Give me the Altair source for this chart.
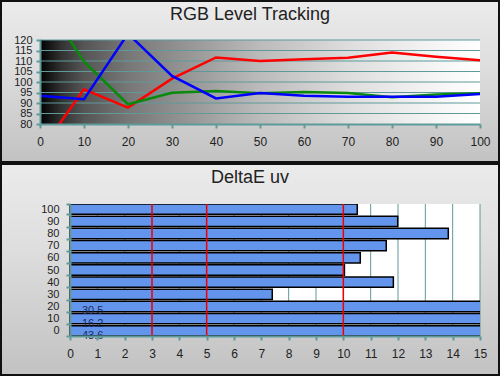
import altair as alt
import pandas as pd

# ---- data ----
levels = [0, 10, 20, 30, 40, 50, 60, 70, 80, 90, 100]
red = [67, 96.5, 87.8, 101.6, 111.7, 110.0, 110.8, 111.6, 114.0, 112.0, 110.3]
green = [141.8, 109.7, 89.4, 94.9, 95.7, 94.6, 95.2, 94.8, 92.7, 94.1, 94.6]
blue = [93.5, 91.8, 123.0, 102.9, 92.2, 94.8, 93.5, 93.0, 93.0, 93.0, 94.3]
y_ticks = [80, 85, 90, 95, 100, 105, 110, 115, 120]
x_ticks = [0, 10, 20, 30, 40, 50, 60, 70, 80, 90, 100]

de_levels = [0, 10, 20, 30, 40, 50, 60, 70, 80, 90, 100]
de_values = [43.6, 16.2, 30.5, 7.40, 11.83, 10.04, 10.62, 11.57, 13.84, 11.99, 10.51]
de_ticks = list(range(0, 16))
de_limits = [3, 5, 10]

TEAL = "#5f9a9a"
FONT = "Liberation Sans"

lines_df = pd.DataFrame({
    "level": levels * 3,
    "value": red + green + blue,
    "channel": ["Red"] * len(levels) + ["Green"] * len(levels) + ["Blue"] * len(levels),
})
ygrid_df = pd.DataFrame({"value": y_ticks[1:]})
one_row = pd.DataFrame({"k": [0]})

bars_df = pd.DataFrame({"level": de_levels, "de": de_values})
bars_df["label"] = [f"{v:.1f}" for v in de_values]
xgrid_df = pd.DataFrame({"de": de_ticks[1:]})
limits_df = pd.DataFrame({"de": de_limits})

panel_grad = alt.LinearGradient(
    gradient="linear", x1=0, x2=0, y1=0, y2=1,
    stops=[alt.GradientStop(color="#ebebeb", offset=0),
           alt.GradientStop(color="#dedede", offset=0.4),
           alt.GradientStop(color="#c2c2c2", offset=1)])
plot_grad = alt.LinearGradient(
    gradient="linear", x1=0, x2=1, y1=0, y2=0,
    stops=[alt.GradientStop(color="#000000", offset=0),
           alt.GradientStop(color="#333333", offset=0.05),
           alt.GradientStop(color="#555555", offset=0.1),
           alt.GradientStop(color="#777777", offset=0.2),
           alt.GradientStop(color="#999999", offset=0.35),
           alt.GradientStop(color="#bbbbbb", offset=0.5),
           alt.GradientStop(color="#dddddd", offset=0.7),
           alt.GradientStop(color="#f2f2f2", offset=0.87),
           alt.GradientStop(color="#ffffff", offset=1)])


def axis_style(font_size=12, pad=8, **extra):
    return alt.Axis(domainColor=TEAL, domainWidth=2, tickColor=TEAL, tickWidth=2,
                    tickSize=4, labelFont=FONT, labelFontSize=font_size,
                    labelColor="#222222", labelFontWeight="normal",
                    grid=False, title=None, labelFlush=False, labelOverlap=False,
                    labelPadding=pad, zindex=1, **extra)


# ---------------- top panel ----------------
W1, H1 = 440, 84
xs1 = alt.Scale(domain=[0, 100], nice=False)
ys1 = alt.Scale(domain=[80, 120], nice=False, zero=False)
x1_axis = axis_style(12, 8, values=x_ticks)
y1_axis = axis_style(11, 4, values=y_ticks)

top_panel = alt.Chart(one_row).mark_rect(fill=panel_grad, stroke="#111111", strokeWidth=2).encode(
    x=alt.value(-39), x2=alt.value(459), y=alt.value(-39), y2=alt.value(122))
top_plotbg = alt.Chart(one_row).mark_rect(fill=plot_grad).encode(
    x=alt.value(0), x2=alt.value(W1), y=alt.value(0), y2=alt.value(H1))
top_grid = alt.Chart(ygrid_df).mark_rule(color=TEAL, strokeWidth=1).encode(
    y=alt.Y("value:Q", scale=ys1, axis=y1_axis))
top_lines = alt.Chart(lines_df).mark_line(strokeWidth=2.5, clip=True).encode(
    x=alt.X("level:Q", scale=xs1, axis=x1_axis),
    y=alt.Y("value:Q", scale=ys1, axis=y1_axis),
    color=alt.Color("channel:N",
                    scale=alt.Scale(domain=["Red", "Green", "Blue"],
                                    range=["#ff0000", "#0a8a0a", "#0000ff"]),
                    legend=None),
    detail="channel:N",
)
top_title = alt.Chart(one_row).mark_text(
    text="RGB Level Tracking", font=FONT, fontSize=18, fontWeight=400, color="#222222",
    align="center", baseline="alphabetic").encode(x=alt.value(210), y=alt.value(-20))

top = alt.layer(top_panel, top_plotbg, top_grid, top_lines, top_title).properties(
    width=W1, height=H1)

# ---------------- bottom panel ----------------
W2, H2 = 440, 132
xs2 = alt.Scale(domain=[0, 15], nice=False, range=[30, 440])
ys2 = alt.Scale(paddingInner=0.15, paddingOuter=0)
x2_axis = axis_style(12, 8, values=de_ticks)
y2_axis = axis_style(11, 7, offset=-30, tickBand="extent")

bot_panel = alt.Chart(one_row).mark_rect(fill=panel_grad, stroke="#111111", strokeWidth=2).encode(
    x=alt.value(-39), x2=alt.value(459), y=alt.value(-40), y2=alt.value(171))
bot_plotbg = alt.Chart(one_row).mark_rect(fill="#ffffff").encode(
    x=alt.value(30), x2=alt.value(W2), y=alt.value(0), y2=alt.value(H2))
bot_grid = alt.Chart(xgrid_df).mark_rule(color=TEAL, strokeWidth=1).encode(
    x=alt.X("de:Q", scale=xs2, axis=x2_axis))
bars = alt.Chart(bars_df).mark_bar(color="#6495ed", stroke="#000000", strokeWidth=1.5, clip=True).encode(
    x=alt.X("de:Q", scale=xs2, axis=x2_axis),
    y=alt.Y("level:O", sort="descending", scale=ys2, axis=y2_axis),
)
limits = alt.Chart(limits_df).mark_rule(color="#ee0000", strokeWidth=1.5).encode(
    x=alt.X("de:Q", scale=xs2, axis=x2_axis))
labels = alt.Chart(bars_df).transform_filter(alt.datum.de > 15).mark_text(
    align="left", baseline="middle", font=FONT, fontSize=11, color="#1c2c5c", yOffset=5).encode(
    x=alt.value(42), y=alt.Y("level:O", sort="descending", scale=ys2, axis=y2_axis),
    text="label:N")
bot_title = alt.Chart(one_row).mark_text(
    text="DeltaE uv", font=FONT, fontSize=18, fontWeight=400, color="#222222",
    align="center", baseline="alphabetic").encode(x=alt.value(210), y=alt.value(-21))

bottom = alt.layer(bot_panel, bot_plotbg, bot_grid, bars, limits, labels, bot_title).properties(
    width=W2, height=H2)

chart = alt.vconcat(top, bottom, spacing=0).properties(
    padding=0, background="#d0d0d0"
).configure_view(stroke=None)

chart.save("out.html", embed_options={"renderer": "svg", "actions": False})
